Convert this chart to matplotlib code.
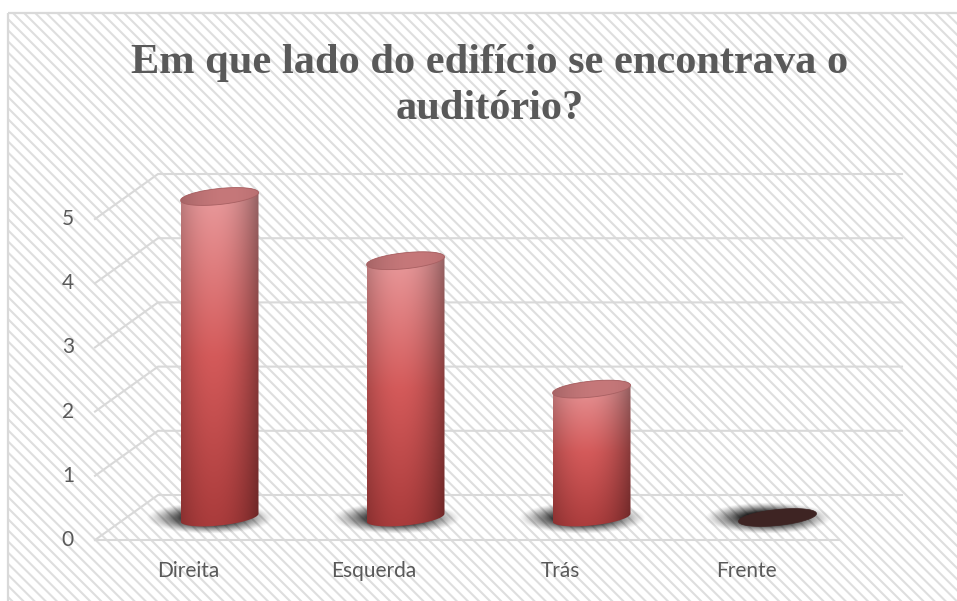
import numpy as np
import matplotlib
matplotlib.use('Agg')
import matplotlib.pyplot as plt
from matplotlib.patches import Rectangle, Polygon
from matplotlib.transforms import offset_copy

# ---- data ----
categories = ['Direita', 'Esquerda', 'Trás', 'Frente']
values = [5, 4, 2, 0]
yticks = [0, 1, 2, 3, 4, 5]
title = 'Em que lado do edifício se encontrava o\nauditório?'

# ---- figure ----
W, H = 957, 601
plt.rcParams['hatch.linewidth'] = 1.5
fig = plt.figure(figsize=(W / 100, H / 100), dpi=100)
fig.patch.set_facecolor('white')

bg = fig.add_axes([0, 0, 1, 1])
bg.set_xlim(0, W)
bg.set_ylim(H, 0)
bg.axis('off')
bg.add_patch(Rectangle((8, 13), W, H, facecolor='white', edgecolor='#dedede',
                       hatch='\\\\\\', lw=0))
bg.add_patch(Rectangle((8, 13), W, H, facecolor='none', edgecolor='#d9d9d9', lw=1.6))

# main axes = front plane of the 3D box (extra headroom above the top tick)
ymax = max(yticks) + 1
L, B, AW = 95, 61, 744
ppy = 321 / max(yticks)
AH = ppy * ymax
ax = fig.add_axes([L / W, B / H, AW / W, AH / H])
ax.patch.set_visible(False)
ax.axis('off')
ax.set_xlim(-0.5, len(categories) - 0.5)
ax.set_ylim(0, ymax)
ppx = AW / len(categories)
DX, DY = 63, 45
dxd, dyd = DX / ppx, DY / ppy

gc = '#d9d9d9'
x0, x1 = ax.get_xlim()
ax.plot([x0, x1], [0, 0], color=gc, lw=1.5, clip_on=False, zorder=1)
txt_c = '#595959'
for v in yticks:
    ax.plot([x0, x0 + dxd, x1 + dxd], [v, v + dyd, v + dyd], color=gc, lw=1.5,
            clip_on=False, zorder=1)
    ax.text(x0, v, str(v),
            transform=offset_copy(ax.transData, fig=fig, x=-21, y=0, units='dots'),
            ha='right', va='center', fontsize=15, color=txt_c, family='Lato')

for i, c in enumerate(categories):
    ax.text(i, 0, c,
            transform=offset_copy(ax.transData, fig=fig, x=0, y=-37, units='dots'),
            ha='center', va='baseline', fontsize=15, color=txt_c, family='Lato')

# ---- cylinders ----
a_px, b_px, tilt = 39, 8, 0.1
a_d, b_d = a_px / ppx, b_px / ppy


def ell(cx, cy, t):
    dx = a_d * np.cos(t)
    return cx + dx, cy + b_d * np.sin(t) + tilt * dx * ppx / ppy


def body_img(nh=240, nw=120):
    u = np.linspace(0, 1, nw)
    prof = 0.58 + 0.42 * np.clip(1 - ((u - 0.42) / 0.62) ** 2, 0, 1)
    tt = np.linspace(0, 1, nh)[:, None, None]
    top = np.array([234, 160, 162])
    mid = np.array([212, 90, 90])
    bot = np.array([168, 58, 58])
    col = np.where(tt < 0.5, top + (mid - top) * (tt / 0.5),
                   mid + (bot - mid) * ((tt - 0.5) / 0.5))
    img = col * prof[None, :, None]
    return np.clip(img / 255.0, 0, 1)


def cap_img(nw=120):
    u = np.linspace(0, 1, nw)
    prof = 0.84 + 0.16 * np.clip(1 - ((u - 0.6) / 0.6) ** 2, 0, 1)
    base = np.array([198, 120, 122])
    img = (base[None, :] * prof[:, None])[None, :, :].repeat(4, axis=0)
    return np.clip(img / 255.0, 0, 1)


def shadow(cx, cy):
    sx, sy = 64 / ppx, 16 / ppy
    ox, oy = -10 / ppx, -1 / ppy
    xs = np.linspace(-1, 1, 160)
    ys = np.linspace(-1, 1, 50)
    X, Y = np.meshgrid(xs, ys)
    r = np.sqrt(X ** 2 + Y ** 2)
    alpha = np.clip((1 - r) / 0.6, 0, 1) ** 1.2 * 0.85
    img = np.zeros((50, 160, 4))
    img[..., 3] = alpha
    ax.imshow(img, extent=[cx + ox - sx, cx + ox + sx, cy + oy - sy, cy + oy + sy],
              origin='upper', aspect='auto', zorder=2, interpolation='bilinear')


tt = np.linspace(0, 2 * np.pi, 200)
for i, v in enumerate(values):
    cx = i + dxd / 2
    cy0 = dyd / 2
    cy1 = v + dyd / 2
    shadow(cx, cy0)
    ex, ey = ell(cx, cy1, tt)
    if v > 0:
        tl = np.linspace(np.pi, 2 * np.pi, 100)
        bx, by = ell(cx, cy0, tl)
        tu = np.linspace(0, np.pi, 100)
        ux, uy = ell(cx, cy1, tu)
        poly = Polygon(np.column_stack([np.concatenate([bx, ux]), np.concatenate([by, uy])]),
                       closed=True, transform=ax.transData, facecolor='none', edgecolor='none')
        im = ax.imshow(body_img(), extent=[cx - a_d, cx + a_d, cy0 - 2 * b_d, cy1 + 2 * b_d],
                       origin='upper', aspect='auto', zorder=3, interpolation='bilinear')
        im.set_clip_path(poly)
        cpoly = Polygon(np.column_stack([ex, ey]), closed=True, transform=ax.transData,
                        facecolor='none', edgecolor='none')
        im2 = ax.imshow(cap_img(), extent=[cx - a_d, cx + a_d, cy1 - 2 * b_d, cy1 + 2 * b_d],
                        origin='upper', aspect='auto', zorder=4, interpolation='bilinear')
        im2.set_clip_path(cpoly)
        ax.add_patch(Polygon(np.column_stack([ex, ey]), closed=True, facecolor='none',
                             edgecolor='#a86062', lw=0.6, zorder=5))
    else:
        ax.add_patch(Polygon(np.column_stack([ex, ey]), closed=True, facecolor='#3e2423',
                             edgecolor='#3e2423', lw=0.5, zorder=4))

ax.set_xlim(-0.5, len(categories) - 0.5)
ax.set_ylim(0, ymax)

fig.text(490 / W, 1 - 86 / H, title, ha='center', va='center', fontsize=30.5,
         fontweight='bold', family='Liberation Serif', color=txt_c, linespacing=1.25)

fig.savefig('out.png', dpi=100, facecolor='white')
